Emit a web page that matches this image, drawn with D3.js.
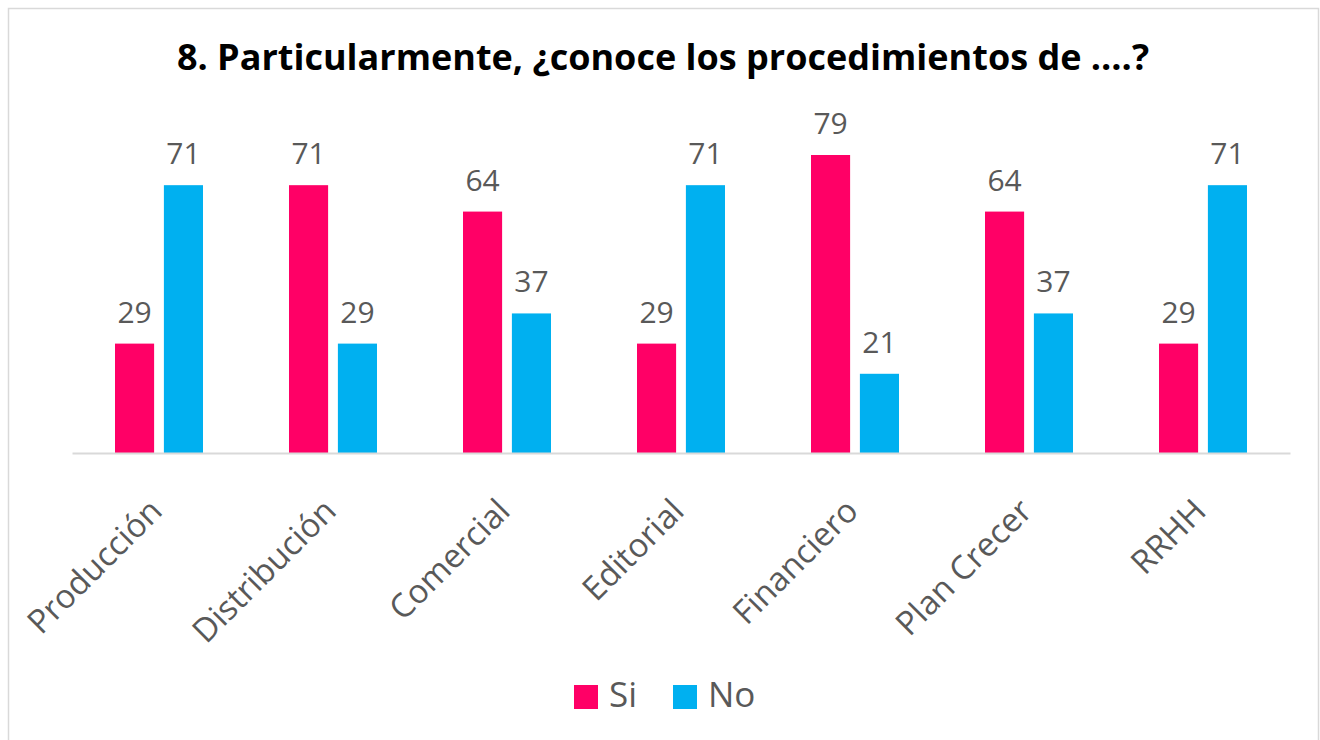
<!DOCTYPE html>
<html>
<head>
<meta charset="utf-8">
<script src="https://cdn.jsdelivr.net/npm/d3@7"></script>
<style>
  body { margin: 0; background: #fff; }
  svg { display: block; font-family: "Open Sans", sans-serif; }
</style>
</head>
<body>
<svg id="chart" width="1320" height="740"></svg>
<script>
// chart data
const categories = ["Producción", "Distribución", "Comercial", "Editorial", "Financiero", "Plan Crecer", "RRHH"];
const seriesNames = ["Si", "No"];
const siValues = [29, 71, 64, 29, 79, 64, 29];
const noValues = [71, 29, 37, 71, 21, 37, 71];
const colors = ["#ff0066", "#00b0f0"];
const titleText = "8. Particularmente, ¿conoce los procedimientos de ….?";

const svg = d3.select("#chart");

// frame
svg.append("rect")
    .attr("x", 8.5).attr("y", 8.5)
    .attr("width", 1310).attr("height", 740)
    .attr("fill", "#fff")
    .attr("stroke", "#d9d9d9")
    .attr("stroke-width", 1.5);

svg.append("text")
    .attr("x", 663)
    .attr("y", 70)
    .attr("text-anchor", "middle")
    .attr("font-weight", "bold")
    .attr("font-size", 36)
    .attr("fill", "#000")
    .text(titleText);

const baseY = 453;

const x0 = d3.scaleBand()
    .domain(categories)
    .range([72, 1290]);

const x1 = d3.scaleBand()
    .domain(seriesNames)
    .range([0, 88])
    .paddingInner(0.2);

const y = d3.scaleLinear()
    .domain([0, 79])
    .range([baseY, 155]);

const rows = categories.map((c, i) => ({
    category: c,
    values: [
        {name: "Si", value: siValues[i]},
        {name: "No", value: noValues[i]}
    ]
}));

const groups = svg.append("g")
    .selectAll("g")
    .data(rows)
    .join("g")
    .attr("transform", d => `translate(${x0(d.category) + x0.bandwidth() / 2 - 44},0)`);

groups.selectAll("rect")
    .data(d => d.values)
    .join("rect")
    .attr("x", d => x1(d.name))
    .attr("y", d => y(d.value))
    .attr("width", x1.bandwidth())
    .attr("height", d => baseY - y(d.value))
    .attr("fill", (d, i) => colors[i]);

groups.selectAll("text")
    .data(d => d.values)
    .join("text")
    .attr("x", d => x1(d.name) + x1.bandwidth() / 2)
    .attr("y", d => y(d.value) - 21)
    .attr("text-anchor", "middle")
    .attr("font-size", 30)
    .attr("fill", "#595959")
    .text(d => d.value);

// category axis
const xAxis = g => g
    .attr("transform", `translate(0,${baseY})`)
    .call(d3.axisBottom(x0).tickSize(0).tickPadding(0))
    .call(g => g.select(".domain").attr("stroke", "#d9d9d9").attr("stroke-width", 2))
    .call(g => g.selectAll(".tick text")
        .attr("font-size", 33)
        .attr("font-family", "Open Sans, sans-serif")
        .attr("fill", "#595959")
        .attr("text-anchor", "end")
        .attr("dy", 0)
        .attr("transform", "translate(5,60) rotate(-45)"));

svg.append("g").call(xAxis);

// legend
const legend = svg.append("g")
    .selectAll("g")
    .data(seriesNames)
    .join("g")
    .attr("transform", (d, i) => `translate(${574 + i * 99},685)`);

legend.append("rect")
    .attr("width", 24)
    .attr("height", 24)
    .attr("fill", (d, i) => colors[i]);

legend.append("text")
    .attr("x", 35)
    .attr("y", 22)
    .attr("font-size", 35)
    .attr("fill", "#595959")
    .text(d => d);
</script>
</body>
</html>
